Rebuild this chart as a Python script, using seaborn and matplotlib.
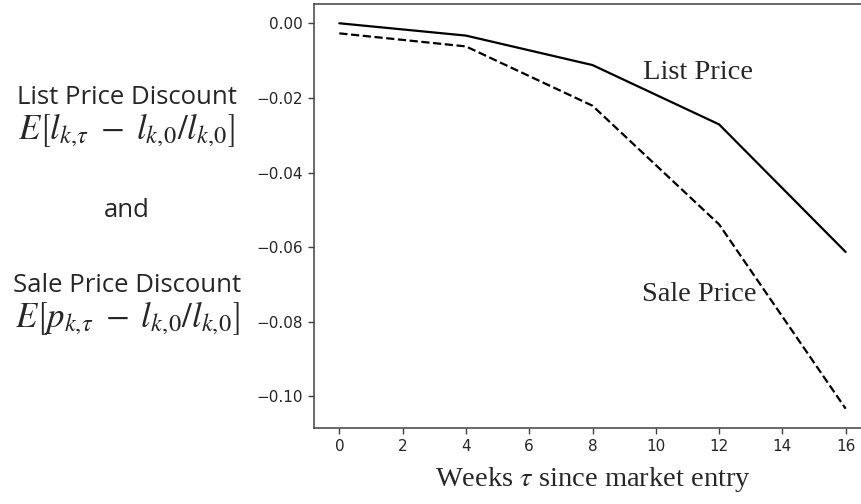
import numpy as np
import pandas as pd
import matplotlib
matplotlib.use('Agg')
import matplotlib.pyplot as plt
import seaborn as sns

# values
weeks = [0, 4, 8, 12, 16]
list_price = [0.0, -0.0033, -0.0112, -0.0271, -0.0613]
sale_price = [-0.0027, -0.0062, -0.0221, -0.0539, -0.1033]

sns.set_style('ticks')
plt.rcParams['font.family'] = ['DejaVu Sans']
plt.rcParams['font.sans-serif'] = ['DejaVu Sans']
plt.rcParams['mathtext.fontset'] = 'stix'
plt.rcParams['axes.edgecolor'] = '.25'
plt.rcParams['xtick.color'] = '.25'
plt.rcParams['ytick.color'] = '.25'
plt.rcParams['xtick.labelcolor'] = '.15'
plt.rcParams['ytick.labelcolor'] = '.15'

W, H = 862, 504
fig = plt.figure(figsize=(W / 100, H / 100), dpi=100)
ax = fig.add_axes([314 / W, 1 - 428 / H, (871 - 314) / W, (428 - 4) / H])

df = pd.DataFrame({'weeks': weeks, 'list': list_price, 'sale': sale_price})
sns.lineplot(data=df, x='weeks', y='list', color='black', linewidth=1.6, ax=ax)
sns.lineplot(data=df, x='weeks', y='sale', color='black', linewidth=1.6,
             linestyle='--', ax=ax)

ax.set_xticks(range(0, 17, 2))
ax.set_yticks([0.0, -0.02, -0.04, -0.06, -0.08, -0.10])
ax.set_yticklabels(['0.00', '\u22120.02', '\u22120.04', '\u22120.06', '\u22120.08', '\u22120.10'])
ax.tick_params(labelsize=11, length=4.5, width=1)
for lab in ax.get_xticklabels() + ax.get_yticklabels():
    lab.set_family('DejaVu Sans')
for s in ax.spines.values():
    s.set_linewidth(1.1)
ax.set_ylabel('')
ax.set_xlabel(r'Weeks $\tau$ since market entry', family='Liberation Serif',
              fontsize=20.5, labelpad=8)

ax.text(9.6, -0.0150, 'List Price', family='Liberation Serif', fontsize=20.5,
        va='baseline', ha='left')
ax.text(9.57, -0.0743, 'Sale Price', family='Liberation Serif', fontsize=20.5,
        va='baseline', ha='left')

# label block on the left
cx = 127 / W
def ftxt(y, s, **kw):
    fig.text(cx, 1 - y / H, s, ha='center', va='baseline', **kw)

ftxt(104, 'List Price Discount', family='Open Sans', fontsize=18.5)
ftxt(140, r'$E\left[l_{k,\!\tau}\;-\;l_{k,\!0}/l_{k,\!0}\right]$', fontsize=25)
ftxt(217, 'and', family='Open Sans', fontsize=18.5)
ftxt(292, 'Sale Price Discount', family='Open Sans', fontsize=18.5)
ftxt(328, r'$E\left[p_{k,\!\tau}\;-\;l_{k,\!0}/l_{k,\!0}\right]$', fontsize=25)

fig.savefig('out.png', dpi=100)
